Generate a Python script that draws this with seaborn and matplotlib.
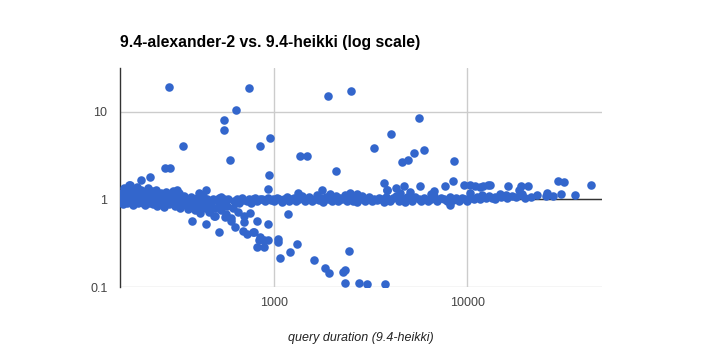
import numpy as np
import pandas as pd
import seaborn as sns
from matplotlib import pyplot as plt
from matplotlib.ticker import FixedLocator, NullLocator

# query duration (9.4-heikki) in ms vs. ratio alexander-2 / heikki
dur_band = [160, 162, 165, 167, 170, 172, 175, 178, 180, 183, 185, 188, 190, 193, 195,
            198, 200, 203, 205, 208, 210, 213, 215, 218, 220, 223, 225, 228, 230, 233,
            235, 238, 240, 243, 245, 248, 250, 255, 258, 260, 265, 268, 270, 275, 278,
            280, 285, 290, 295, 300, 305, 310, 315, 320, 325, 330, 335, 340, 350, 355,
            360, 365, 370, 380, 385, 390, 395, 400, 410, 415, 420, 430, 440, 445, 450,
            460, 470, 480, 490, 500, 510, 520, 530, 540, 550, 560, 570, 580, 600, 610,
            620, 640, 650, 660, 680, 690, 700, 720, 740, 760, 780, 800, 820, 850, 870,
            900, 930, 960, 990, 165, 172, 185, 197, 210, 226, 242]
ratio_band = [1.05, 1.2, 0.95, 1.35, 1.1, 0.98, 1.25, 1.45, 1.02, 0.92, 1.15, 1.3, 0.97, 1.08, 1.4,
              0.9, 1.18, 1.02, 1.28, 0.93, 1.12, 0.86, 1.05, 1.22, 0.98, 1.35, 0.9, 1.1, 1.0, 1.25,
              0.88, 1.05, 1.15, 0.95, 1.3, 0.85, 1.08, 1.0, 1.2, 0.9, 1.12, 0.82, 1.0, 1.22, 0.93,
              1.05, 0.88, 1.15, 0.97, 1.25, 0.85, 1.05, 0.93, 1.18, 0.8, 1.0, 0.9, 1.1, 0.86, 1.0,
              0.78, 0.95, 1.08, 0.88, 1.0, 0.75, 0.92, 1.05, 0.85, 0.7, 0.97, 1.1, 0.8, 0.92, 1.0,
              0.72, 0.88, 1.02, 0.65, 0.8, 0.95, 1.05, 0.75, 0.9, 1.0, 0.68, 0.85, 1.02, 0.62, 0.8,
              0.95, 1.0, 0.72, 0.9, 1.05, 0.98, 0.65, 0.95, 1.02, 0.92, 1.0, 1.05, 0.95, 1.0, 1.02,
              0.96, 1.03, 0.98, 1.0, 0.88, 0.9, 0.87, 0.93, 0.91, 0.95, 0.9]

dur_mid = [1000, 1030, 1060, 1100, 1130, 1160, 1200, 1230, 1270, 1300, 1350, 1400, 1440, 1480,
           1520, 1570, 1620, 1660, 1700, 1750, 1800, 1850, 1900, 1950, 2000, 2050, 2100, 2150,
           2200, 2260, 2320, 2380, 2440, 2500, 2560, 2620, 2700, 2780, 2860, 2940, 3000, 3100,
           3200, 3300, 3400, 3500, 3600, 3700, 3800, 3900, 4000, 4150, 4300, 4450, 4600, 4750,
           4900, 5050, 5200, 5400, 5600, 5800, 6000, 6250, 6500, 6750, 7000, 7300, 7600, 7900,
           8200, 8500, 8800, 9100, 9400, 9700, 10000, 10400, 10800, 11200, 11600, 12000, 12500,
           13000, 13500, 14000, 15000, 16000, 17000, 18000, 19000, 20000, 21500]
ratio_mid = [0.95, 1.05, 1.0, 0.93, 1.02, 1.08, 0.97, 1.0, 1.05, 0.95, 1.02, 1.1, 0.97, 1.0,
             1.06, 0.95, 1.02, 1.12, 0.98, 1.05, 0.93, 1.08, 1.0, 1.15, 0.96, 1.03, 1.1, 0.97,
             1.05, 1.0, 1.12, 0.95, 1.02, 1.08, 0.97, 1.04, 0.94, 1.02, 1.1, 0.97, 1.0, 1.06,
             0.95, 1.02, 0.98, 1.05, 1.0, 0.93, 1.08, 1.0, 0.96, 1.04, 1.1, 0.97, 1.02, 0.93,
             1.06, 1.0, 0.95, 1.08, 1.0, 0.97, 1.05, 0.95, 1.02, 1.1, 0.97, 1.04, 1.0, 0.95,
             1.08, 0.98, 1.03, 0.96, 1.05, 1.0, 0.97, 1.04, 1.0, 1.06, 1.02, 1.08, 1.03,
             1.1, 1.05, 1.02, 1.08, 1.05, 1.1, 1.06, 1.12, 1.05, 1.08]

dur_high = [287, 745, 1905, 2515, 636, 551, 551, 338, 957, 846, 592, 272, 290, 1369, 1488,
            2088, 3311, 4030, 942, 935, 3700, 3850, 1327, 5630, 4590, 4946, 5298, 5985, 8570,
            228, 205, 180, 441, 407, 313, 533, 1766, 2476, 2702,
            43850, 29500, 31900, 36400, 30800, 27800, 25800, 25500, 23100, 20600, 18970, 18580,
            19360, 16250, 15920, 14830, 13970, 13150, 12050, 11900,
            3866, 4274, 4700, 5700, 4498, 5070, 6745, 6535, 7690, 8495, 9620, 10380, 10990,
            11670, 12890, 10380, 8170]
ratio_high = [19.4, 18.6, 15.2, 17.3, 10.5, 8.06, 6.3, 4.07, 5.02, 4.07, 2.84, 2.3, 2.3, 3.18, 3.18,
              2.14, 3.83, 5.63, 1.88, 1.31, 1.55, 1.27, 1.18, 8.43, 2.65, 2.84, 3.44, 3.63, 2.77,
              1.83, 1.69, 1.48, 1.27, 1.18, 1.27, 1.08, 1.27, 1.19, 1.16,
              1.48, 1.62, 1.58, 1.13, 1.17, 1.1, 1.2, 1.1, 1.13, 1.41, 1.42, 1.27,
              1.17, 1.41, 1.13, 1.16, 1.08, 1.48, 1.41, 1.12,
              1.27, 1.36, 1.41, 1.42, 1.2, 1.23, 1.24, 1.17, 1.43, 1.62, 1.48, 1.48, 1.43,
              1.39, 1.48, 1.2, 0.854]

dur_low = [1178, 753, 700, 817, 928, 519, 375, 628, 722, 788, 836, 888, 935, 818, 884, 1052,
           1045, 1070, 1206, 1321, 1611, 1837, 1936, 2270, 2333, 2447, 2333, 2757, 3042, 3733,
           776, 846, 691, 443, 601, 556, 492, 465]
ratio_low = [0.68, 0.7, 0.56, 0.575, 0.518, 0.42, 0.57, 0.483, 0.405, 0.42, 0.34, 0.346, 0.346,
             0.285, 0.29, 0.35, 0.325, 0.212, 0.252, 0.306, 0.201, 0.163, 0.144, 0.147, 0.158,
             0.261, 0.11, 0.11, 0.107, 0.107, 0.42, 0.371, 0.442, 0.527, 0.575, 0.628, 0.656, 0.749]

df = pd.DataFrame({
    'duration': dur_band + dur_mid + dur_high + dur_low,
    'ratio': ratio_band + ratio_mid + ratio_high + ratio_low,
})

sns.set_style('white')
plt.rcParams['font.family'] = ['Liberation Sans', 'DejaVu Sans']

fig = plt.figure(figsize=(7.22, 3.56), dpi=100)
ax = fig.add_axes([120 / 722, 69 / 356, 482 / 722, 219 / 356])

sns.scatterplot(data=df, x='duration', y='ratio', ax=ax, color='#3366cc',
                s=38, linewidth=0, alpha=1, zorder=3)

ax.set_xscale('log')
ax.set_yscale('log')
ax.set_xlim(159, 50000)
ax.set_ylim(0.1, 31.8)

ax.xaxis.set_major_locator(FixedLocator([1000, 10000]))
ax.yaxis.set_major_locator(FixedLocator([0.1, 1, 10]))
ax.xaxis.set_minor_locator(NullLocator())
ax.yaxis.set_minor_locator(NullLocator())
ax.set_xticklabels(['1000', '10000'])
ax.set_yticklabels(['0.1', '1', '10'])
ax.tick_params(axis='both', length=0, labelsize=9, labelcolor='#444444')
ax.tick_params(axis='y', pad=9)
ax.tick_params(axis='x', pad=7)

ax.grid(True, color='#cccccc', linewidth=1, zorder=0)
ax.axhline(1, color='#333333', linewidth=1, zorder=1)
for side in ['top', 'right', 'bottom']:
    ax.spines[side].set_visible(False)
ax.spines['left'].set_color('#333333')
ax.spines['left'].set_linewidth(1)

ax.set_xlabel('query duration (9.4-heikki)', fontstyle='italic', fontsize=9,
              color='#222222', labelpad=17)
ax.set_ylabel('')
fig.text(120 / 722, 1 - 42 / 356, '9.4-alexander-2 vs. 9.4-heikki (log scale)',
         fontsize=11.3, fontweight='bold', color='#000000', va='center', ha='left')

fig.savefig('out.png', dpi=100)
